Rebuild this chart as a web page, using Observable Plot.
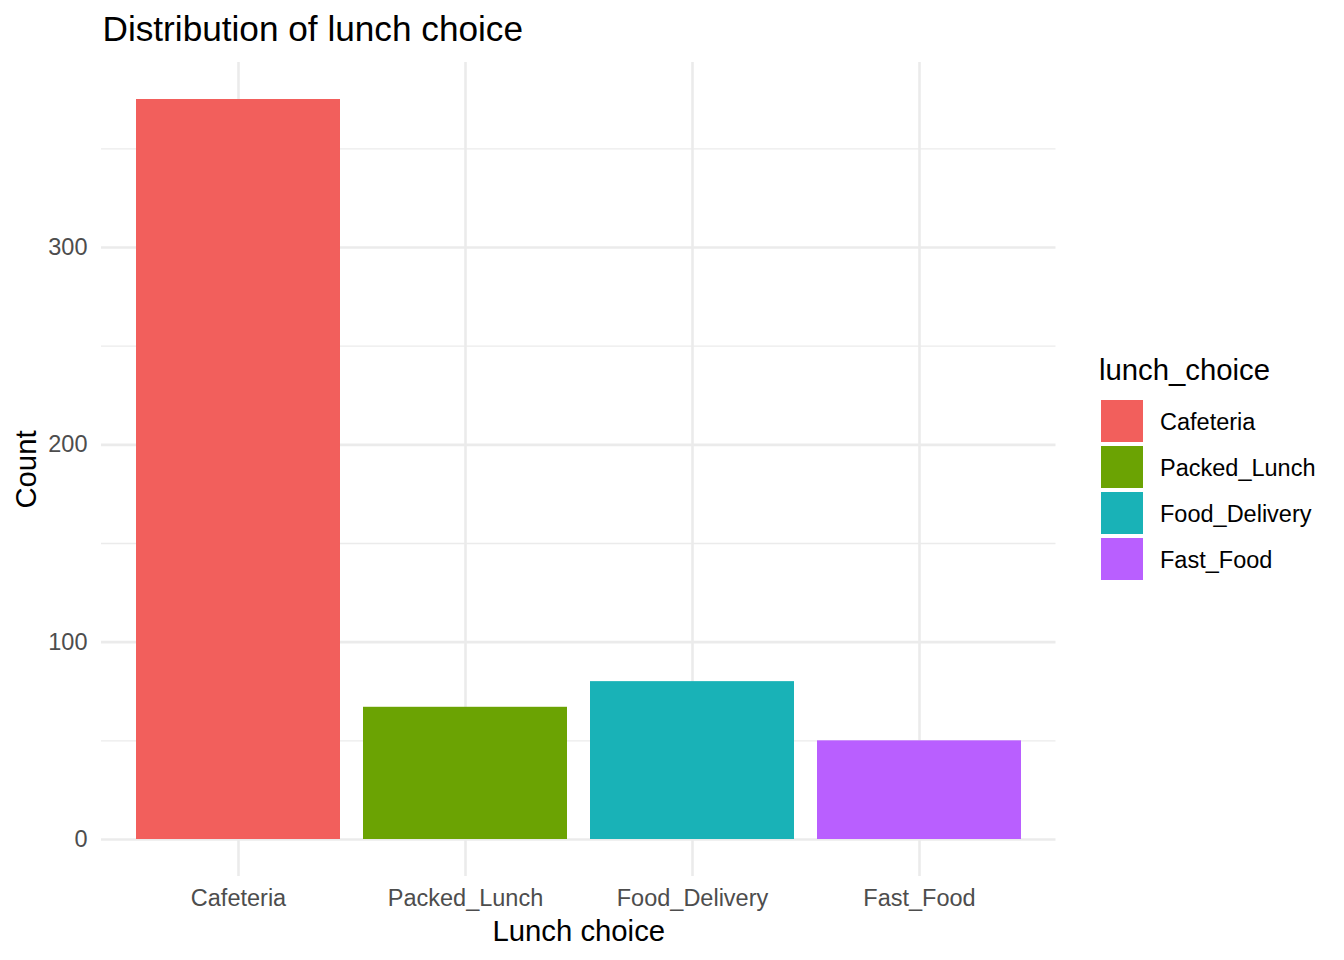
<!DOCTYPE html>
<html>
<head>
<meta charset="utf-8">
<script src="https://cdn.jsdelivr.net/npm/d3@7"></script>
<script src="https://cdn.jsdelivr.net/npm/@observablehq/plot@0.6"></script>
<style>
  html, body { margin: 0; padding: 0; background: #fff; }
  #wrap { position: relative; width: 1344px; height: 960px; font-family: "Liberation Sans", Arial, Helvetica, sans-serif; }
  #legend { position: absolute; left: 1099px; top: 0; }
  .ltitle { position: absolute; left: 0; top: 352px; font-size: 29.3px; line-height: 36px; color: #000; white-space: nowrap; }
  .litem { position: absolute; left: 2px; width: 300px; height: 42px; }
  .sw { position: absolute; left: 0; top: 0; width: 42px; height: 42px; }
  .lab { position: absolute; left: 59px; top: 1px; height: 42px; line-height: 42px; font-size: 23.5px; color: #000; white-space: nowrap; }
</style>
</head>
<body>
<div id="wrap"></div>
<script>
const categories = ["Cafeteria", "Packed_Lunch", "Food_Delivery", "Fast_Food"];
const counts = [375, 67, 80, 50];
const colors = ["#F25F5C", "#6BA303", "#19B2B7", "#B95FFF"];
const yTicks = [0, 100, 200, 300];
const yMinor = [50, 150, 250, 350];
const titleText = "Distribution of lunch choice";
const xTitle = "Lunch choice";
const yTitle = "Count";
const legendTitle = "lunch_choice";

const data = categories.map((c, i) => ({choice: c, count: counts[i]}));
const ymax = d3.max(counts);
const pad = ymax * 0.05;

const font = "Liberation Sans, Arial, Helvetica, sans-serif";

const chart = Plot.plot({
  width: 1344,
  height: 960,
  marginTop: 62,
  marginBottom: 84,
  marginLeft: 101,
  marginRight: 288.5,
  style: {fontFamily: font, background: "white", color: "#4D4D4D", overflow: "visible"},
  x: {domain: categories, paddingInner: 0.1, paddingOuter: 0.15, align: 0.5},
  y: {domain: [-pad, ymax + pad]},
  color: {domain: categories, range: colors},
  marks: [
    Plot.ruleY(yMinor, {stroke: "#EBEBEB", strokeWidth: 1.3}),
    Plot.ruleY(yTicks, {stroke: "#EBEBEB", strokeWidth: 2.6}),
    Plot.ruleX(categories, {x: d => d, stroke: "#EBEBEB", strokeWidth: 2.6}),
    Plot.barY(data, {x: "choice", y: "count", fill: "choice", inset: 0}),
    Plot.axisY({ticks: yTicks, tickSize: 0, tickPadding: 14, fontSize: 23.5, label: null, fill: "#4D4D4D"}),
    Plot.axisX({tickSize: 0, tickPadding: 13, fontSize: 23.5, label: null, fill: "#4D4D4D"}),
    Plot.text([xTitle], {text: d => d, frameAnchor: "bottom", dy: 64, lineAnchor: "bottom", fontSize: 29.3, fill: "black"}),
    Plot.text([yTitle], {text: d => d, frameAnchor: "left", dx: -66, rotate: -90, textAnchor: "middle", lineAnchor: "bottom", fontSize: 29.3, fill: "black"}),
    Plot.text([titleText], {text: d => d, frameAnchor: "top-left", dx: 1, dy: -22, textAnchor: "start", lineAnchor: "bottom", fontSize: 35.2, fill: "black"})
  ]
});

const wrap = document.getElementById("wrap");
wrap.appendChild(chart);

const legend = document.createElement("div");
legend.id = "legend";
const lt = document.createElement("div");
lt.className = "ltitle";
lt.textContent = legendTitle;
legend.appendChild(lt);
categories.forEach((c, i) => {
  const item = document.createElement("div");
  item.className = "litem";
  item.style.top = (400 + i * 46) + "px";
  const sw = document.createElement("div");
  sw.className = "sw";
  sw.style.background = colors[i];
  const lab = document.createElement("div");
  lab.className = "lab";
  lab.textContent = c;
  item.appendChild(sw);
  item.appendChild(lab);
  legend.appendChild(item);
});
wrap.appendChild(legend);
</script>
</body>
</html>
